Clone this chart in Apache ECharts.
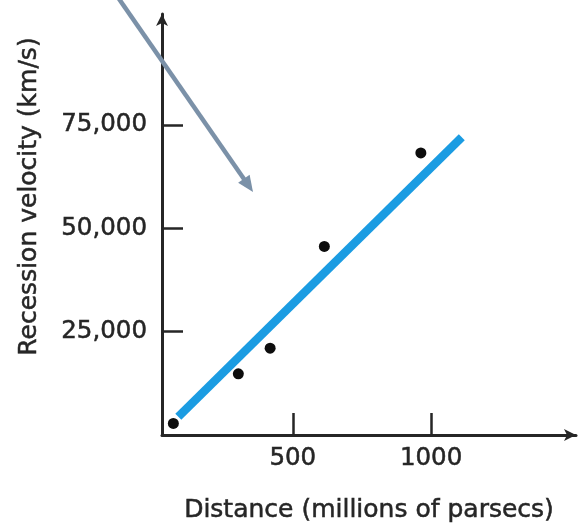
<!DOCTYPE html>
<html>
<head>
<meta charset="utf-8">
<script src="https://cdn.jsdelivr.net/npm/echarts@6/dist/echarts.min.js"></script>
<style>
  html, body { margin: 0; padding: 0; background: #fff; }
  #chart { width: 583px; height: 525px; }
</style>
</head>
<body>
<div id="chart"></div>
<script>
// Hubble diagram: galaxy distances vs. recession velocities
const distance = [68, 303, 418, 614, 963];          // millions of parsecs
const velocity = [2800, 14800, 21000, 45600, 68200]; // km/s

// Straight-line fit drawn through the points
const fitDistance = [86, 1111];
const fitVelocity = [4400, 72000];

// Labelled tick positions
const xTicks = [500, 1000];
const yTicks = [25000, 50000, 75000];

const axisColor = '#262626';
const textColor = '#262626';
const font = 'DejaVu Sans';
const textWeight = { textBorderColor: textColor, textBorderWidth: 0.5 };

const chart = echarts.init(document.getElementById('chart'), null, { renderer: 'canvas' });

// Pointer arrow in the upper-left of the plot
const arrowTip = [253, 192];
const arrowTail = [117, -4];
const dx = arrowTip[0] - arrowTail[0], dy = arrowTip[1] - arrowTail[1];
const len = Math.sqrt(dx * dx + dy * dy);
const ux = dx / len, uy = dy / len;
const headLen = 16, headHalf = 7;
const base = [arrowTip[0] - ux * headLen, arrowTip[1] - uy * headLen];
const arrowColor = '#7b91a8';

chart.setOption({
  backgroundColor: '#ffffff',
  animation: false,
  grid: { left: 162, right: 7, top: 14, bottom: 90, outerBoundsMode: 'none' },
  xAxis: {
    type: 'value',
    min: 27,
    max: 1524,
    name: 'Distance (millions of parsecs)',
    nameLocation: 'middle',
    nameGap: 63,
    nameTextStyle: Object.assign({ fontFamily: font, fontSize: 25, color: textColor }, textWeight),
    axisLine: {
      show: true, onZero: false,
      symbol: ['none', 'arrow'], symbolSize: [9, 12],
      lineStyle: { color: axisColor, width: 3 }
    },
    axisTick: {
      show: true, inside: true, length: 22,
      customValues: xTicks,
      lineStyle: { color: axisColor, width: 2.5 }
    },
    axisLabel: Object.assign({
      customValues: xTicks,
      fontFamily: font, fontSize: 24.5, color: textColor, margin: 11,
      formatter: v => String(v)
    }, textWeight),
    splitLine: { show: false }
  },
  yAxis: {
    type: 'value',
    min: 0,
    max: 101800,
    name: 'Recession velocity (km/s)',
    nameLocation: 'middle',
    nameGap: 120,
    nameRotate: 90,
    nameTextStyle: Object.assign({ fontFamily: font, fontSize: 25, color: textColor, padding: [0, 0, 0, 56] }, textWeight),
    axisLine: {
      show: true, onZero: false,
      symbol: ['none', 'arrow'], symbolSize: [9, 12],
      lineStyle: { color: axisColor, width: 3 }
    },
    axisTick: {
      show: true, inside: true, length: 21,
      customValues: yTicks,
      lineStyle: { color: axisColor, width: 2.5 }
    },
    axisLabel: Object.assign({
      customValues: yTicks,
      fontFamily: font, fontSize: 24.5, color: textColor, margin: 15,
      formatter: v => v.toLocaleString('en-US')
    }, textWeight),
    splitLine: { show: false }
  },
  series: [
    {
      type: 'line',
      data: fitDistance.map((d, i) => [d, fitVelocity[i]]),
      symbol: 'none',
      lineStyle: { color: '#1b9ce2', width: 8.5, cap: 'butt' },
      z: 2
    },
    {
      type: 'scatter',
      data: distance.map((d, i) => [d, velocity[i]]),
      symbol: 'circle',
      symbolSize: 11,
      itemStyle: { color: '#0d0d0d', opacity: 1 },
      z: 3
    }
  ],
  graphic: [
    {
      type: 'line',
      shape: { x1: arrowTail[0], y1: arrowTail[1], x2: base[0] + ux * 2, y2: base[1] + uy * 2 },
      style: { stroke: arrowColor, lineWidth: 4.5 },
      z: 10
    },
    {
      type: 'polygon',
      shape: {
        points: [
          arrowTip,
          [base[0] - uy * headHalf, base[1] + ux * headHalf],
          [base[0] + uy * headHalf, base[1] - ux * headHalf]
        ]
      },
      style: { fill: arrowColor },
      z: 10
    }
  ]
});
</script>
</body>
</html>
